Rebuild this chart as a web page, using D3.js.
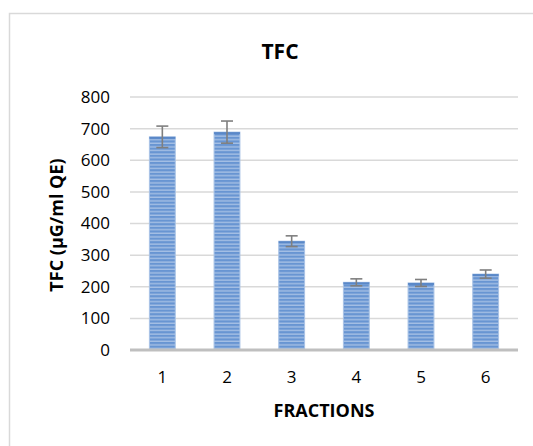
<!DOCTYPE html>
<html><head><meta charset="utf-8">
<script src="https://cdn.jsdelivr.net/npm/d3@7"></script>
<style>body{margin:0;background:#fff}svg{display:block}text{font-family:"Open Sans","Liberation Sans",sans-serif}</style>
</head><body><svg id="c" width="533" height="446"></svg>
<script>
const categories = ["1","2","3","4","5","6"];
const values = [674, 689, 344, 214, 212, 240];
const errors = [34, 35, 17, 11, 11, 13];
const yTicks = [0,100,200,300,400,500,600,700,800];

const svg = d3.select("#c");
const x = d3.scaleBand().domain(categories).range([130, 518]).paddingInner(0.6).paddingOuter(0.3);
const y = d3.scaleLinear().domain([0,800]).range([350, 97]);

// frame
svg.append("rect").attr("x",9.5).attr("y",13.5).attr("width",600).attr("height",600)
  .attr("fill","none").attr("stroke","#d9d9d9").attr("stroke-width",1.5);

// pattern
const defs = svg.append("defs");
const p = defs.append("pattern").attr("id","stripe").attr("patternUnits","userSpaceOnUse")
  .attr("width",8).attr("height",3.6);
p.append("rect").attr("width",8).attr("height",3.6).attr("fill","#6895d2");
p.append("rect").attr("y",2.2).attr("width",8).attr("height",1.4).attr("fill","#a4bfe4");

// grid
svg.append("g").selectAll("line").data(yTicks.filter(d=>d>0)).join("line")
  .attr("x1",130).attr("x2",518).attr("y1",d=>y(d)).attr("y2",d=>y(d))
  .attr("stroke","#d9d9d9").attr("stroke-width",1.5);

// y axis labels
const ya = svg.append("g").attr("transform","translate(130,0)")
  .call(d3.axisLeft(y).tickValues(yTicks).tickSize(0).tickPadding(20));
ya.select(".domain").remove();
ya.selectAll("text").attr("font-size",17).attr("fill","#000")
  .style("font-family","'Open Sans','Liberation Sans',sans-serif");

// bars
const bars = svg.append("g").selectAll("g").data(categories).join("g");
bars.append("rect").attr("x",d=>x(d)).attr("width",x.bandwidth())
  .attr("y",(d,i)=>y(values[i])).attr("height",(d,i)=>y(0)-y(values[i]))
  .attr("fill","url(#stripe)").attr("stroke","#a9c3e6").attr("stroke-width",1);
bars.append("line").attr("x1",d=>x(d)).attr("x2",d=>x(d)+x.bandwidth())
  .attr("y1",(d,i)=>y(values[i])+1).attr("y2",(d,i)=>y(values[i])+1)
  .attr("stroke","#5a88c8").attr("stroke-width",2);

// error bars
const eb = svg.append("g").attr("stroke","#7f7f7f").attr("stroke-width",1.6);
categories.forEach((c,i)=>{
  const cx = x(c)+x.bandwidth()/2;
  const t = y(values[i]+errors[i]), b = y(values[i]-errors[i]);
  eb.append("line").attr("x1",cx).attr("x2",cx).attr("y1",t).attr("y2",b);
  eb.append("line").attr("x1",cx-6).attr("x2",cx+6).attr("y1",t).attr("y2",t);
  eb.append("line").attr("x1",cx-6).attr("x2",cx+6).attr("y1",b).attr("y2",b);
});

// x axis
svg.append("line").attr("x1",130).attr("x2",518).attr("y1",350).attr("y2",350)
  .attr("stroke","#bfbfbf").attr("stroke-width",3);
const xa = svg.append("g").attr("transform","translate(0,350)")
  .call(d3.axisBottom(x).tickSize(0).tickPadding(21));
xa.select(".domain").remove();
xa.selectAll("text").attr("font-size",17).attr("fill","#000")
  .style("font-family","'Open Sans','Liberation Sans',sans-serif");

// titles
svg.append("text").attr("x",280).attr("y",59).attr("text-anchor","middle")
  .attr("font-size",21).attr("font-weight","bold").text("TFC");
svg.append("text").attr("x",324).attr("y",417).attr("text-anchor","middle")
  .attr("font-size",18).attr("font-weight","bold").text("FRACTIONS");
svg.append("text").attr("transform","translate(63,225) rotate(-90)").attr("text-anchor","middle")
  .attr("font-size",18).attr("font-weight","bold").text("TFC (µG/ml QE)");
</script></body></html>
